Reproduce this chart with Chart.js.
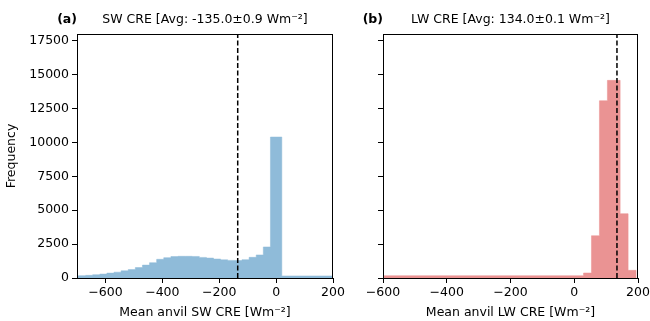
<!DOCTYPE html>
<html>
<head>
<meta charset="utf-8">
<script src="https://cdn.jsdelivr.net/npm/chart.js@4.4.1/dist/chart.umd.min.js"></script>
<style>
  body { margin: 0; background: #fff; }
  #wrap { position: relative; width: 650px; height: 321px; overflow: hidden; }
  .panel { position: absolute; top: 0; height: 321px; }
</style>
</head>
<body>
<div id="wrap">
  <div class="panel" style="left:0;width:360px"><canvas id="swChart"></canvas></div>
  <div class="panel" style="left:340px;width:310px"><canvas id="lwChart"></canvas></div>
</div>
<script>
// histogram bin edges and counts
var swEdges = [-720, -695, -670, -645, -620, -595, -570, -545, -520, -495, -470, -445, -420, -395, -370, -345,
               -320, -295, -270, -245, -220, -195, -170, -145, -120, -95, -70, -45, -20, 20, 220];
var swCounts = [150, 175, 195, 245, 290, 360, 430, 530, 620, 770, 950, 1130, 1380, 1500, 1580,
                1600, 1600, 1590, 1520, 1470, 1400, 1340, 1300, 1290, 1350, 1525, 1700, 2290, 10400, 150];
var lwEdges = [-620, 29, 54, 79, 104, 144, 169, 194];
var lwCounts = [170, 370, 3120, 13080, 14580, 4745, 565];

var swAvg = -135.0;
var lwAvg = 134.0;

var xTicks = [-600, -400, -200, 0, 200];
var yTicks = [0, 2500, 5000, 7500, 10000, 12500, 15000, 17500];
var yMax = 18000;

var font = "'DejaVu Sans', sans-serif";

// turn edges + counts into step points
function stepPoints(edges, counts) {
  var pts = [{x: edges[0], y: 0}];
  for (var i = 0; i < counts.length; i++) {
    pts.push({x: edges[i], y: counts[i]});
  }
  pts.push({x: edges[edges.length - 1], y: 0});
  return pts;
}

function minusFmt(v) {
  return v < 0 ? '\u2212' + Math.abs(v) : String(v);
}

// draw the full box round the plot plus the panel titles
var framePlugin = {
  id: 'frame',
  afterDraw: function(chart) {
    var a = chart.chartArea, ctx = chart.ctx, o = chart.options.plugins.frame;
    ctx.save();
    ctx.strokeStyle = '#000';
    ctx.lineWidth = 1;
    ctx.strokeRect(Math.round(a.left) + 0.5, Math.round(a.top) + 0.5,
                   Math.round(a.right - a.left) - 1, Math.round(a.bottom - a.top));
    ctx.fillStyle = '#000';
    ctx.textBaseline = 'middle';
    ctx.font = 'bold 12.5px ' + font;
    ctx.textAlign = 'right';
    ctx.fillText(o.tag, a.left, 20);
    ctx.font = '12.5px ' + font;
    ctx.textAlign = 'center';
    ctx.fillText(o.title, (a.left + a.right) / 2, 20);
    ctx.restore();
  }
};

function makeHist(id, edges, counts, avg, xMin, fillColor, opts) {
  var ctx = document.getElementById(id);
  return new Chart(ctx, {
    type: 'line',
    data: {
      datasets: [
        {
          data: [{x: avg, y: 0}, {x: avg, y: yMax}],
          borderColor: '#000',
          borderWidth: 1.5,
          borderDash: [5, 2.5],
          pointRadius: 0,
          fill: false
        },
        {
          data: stepPoints(edges, counts),
          stepped: true,
          borderColor: fillColor,
          borderWidth: 0.5,
          backgroundColor: fillColor,
          pointRadius: 0,
          fill: 'origin'
        }
      ]
    },
    options: {
      responsive: true,
      maintainAspectRatio: false,
      animation: false,
      layout: { padding: { top: 34, right: opts.padRight, left: 0, bottom: 0 } },
      plugins: {
        legend: { display: false },
        tooltip: { enabled: false },
        frame: { tag: opts.tag, title: opts.title }
      },
      scales: {
        x: {
          type: 'linear',
          min: xMin,
          max: 200,
          afterFit: function(s) { s.height = 43; s.paddingLeft = 0; s.paddingRight = 0; },
          afterBuildTicks: function(s) { s.ticks = xTicks.map(function(v) { return {value: v}; }); },
          grid: { display: true, drawOnChartArea: false, color: '#000', tickLength: 5, tickWidth: 1 },
          border: { display: true, color: '#000', width: 1 },
          ticks: { color: '#000', font: { family: font, size: 12.5 }, padding: 2, maxRotation: 0,
                   callback: function(v) { return minusFmt(v); } },
          title: { display: true, text: opts.xTitle, color: '#000',
                   font: { family: font, size: 12.5 }, padding: { top: 0, bottom: 1 } }
        },
        y: {
          min: 0,
          max: yMax,
          afterFit: function(s) { s.width = opts.yWidth; s.paddingTop = 0; s.paddingBottom = 0; },
          afterBuildTicks: function(s) { s.ticks = yTicks.map(function(v) { return {value: v}; }); },
          grid: { display: true, drawOnChartArea: false, color: '#000', tickLength: 5, tickWidth: 1 },
          border: { display: true, color: '#000', width: 1 },
          ticks: { color: '#000', font: { family: font, size: 12.5 }, padding: 3,
                   callback: function(v) { return opts.yLabels ? String(v) : ''; } },
          title: { display: opts.yLabels, text: 'Frequency', color: '#000',
                   font: { family: font, size: 12.5 }, padding: { top: 4, bottom: 0 } }
        }
      }
    },
    plugins: [framePlugin]
  });
}

makeHist('swChart', swEdges, swCounts, swAvg, -700, 'rgb(143, 187, 217)', {
  padRight: 27, yWidth: 77, yLabels: true, tag: '(a)',
  title: 'SW CRE [Avg: -135.0\u00b10.9 Wm\u207b\u00b2]',
  xTitle: 'Mean anvil SW CRE [Wm\u207b\u00b2]'
});
makeHist('lwChart', lwEdges, lwCounts, lwAvg, -600, 'rgb(234, 147, 147)', {
  padRight: 12, yWidth: 43, yLabels: false, tag: '(b)',
  title: 'LW CRE [Avg: 134.0\u00b10.1 Wm\u207b\u00b2]',
  xTitle: 'Mean anvil LW CRE [Wm\u207b\u00b2]'
});
</script>
</body>
</html>
